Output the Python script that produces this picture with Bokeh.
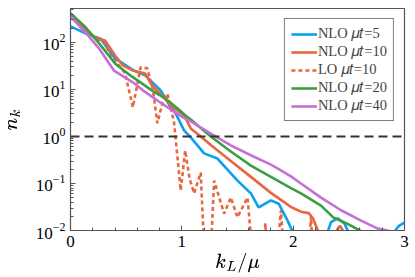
import numpy as np
from bokeh.plotting import figure
from bokeh.models import Span, Legend, LegendItem, FixedTicker
from bokeh.embed import file_html
from bokeh.resources import INLINE

# ---- data (x = k_L/mu, values given as log10(n_k)) ----
nlo5_x = [0, 0.135, 0.27, 0.40, 0.57, 0.67, 0.81, 0.90, 0.94, 1.02, 1.08, 1.20, 1.32, 1.50, 1.62,
          1.69, 1.80, 1.87, 1.95, 2.00, 2.05, 2.30, 2.34, 2.40, 2.46, 2.50, 2.55, 2.85, 2.90, 2.95, 3.0]
nlo5_log = [2.34, 2.19, 2.08, 1.66, 1.40, 1.30, 0.98, 0.62, 0.51, 0.13, -0.02, -0.36, -0.47, -0.94, -1.21,
            -1.51, -1.36, -1.43, -1.79, -2.05, -4, -2.1, -1.82, -1.74, -1.85, -2.05, -4, -4, -2.05, -1.9, -1.83]

nlo10_x = [0, 0.10, 0.22, 0.31, 0.40, 0.47, 0.56, 0.67, 0.73, 0.82, 0.92, 1.02, 1.08, 1.17, 1.26, 1.44,
           1.62, 1.80, 1.89, 1.98, 2.07, 2.14, 2.18, 2.23, 2.28, 2.38, 2.42, 2.46, 2.50]
nlo10_log = [2.57, 2.35, 2.10, 2.04, 1.72, 1.51, 1.40, 1.34, 1.09, 0.87, 0.62, 0.45, 0.17, 0.0, -0.18, -0.52,
             -0.86, -1.20, -1.35, -1.50, -1.60, -1.63, -1.75, -2.05, -4, -2.05, -1.9, -2.05, -4]

lo10_x = [0, 0.10, 0.22, 0.31, 0.36, 0.42, 0.49, 0.56, 0.63, 0.69, 0.74, 0.78, 0.83, 0.87, 0.93, 0.99,
          1.03, 1.07, 1.11, 1.17, 1.23, 1.29, 1.38, 1.44, 1.50, 1.59, 1.69, 1.75, 1.80, 1.89, 1.96, 2.10,
          2.16, 2.21]
lo10_log = [2.57, 2.35, 2.10, 2.00, 1.70, 1.55, 1.35, 0.62, 1.47, 1.45, 1.00, 0.28, 0.75, 0.91, 0.30, -1.15,
            -0.30, -0.90, -1.21, -0.77, -4, -0.94, -1.64, -1.30, -1.72, -1.30, -4, -1.85, -4, -1.57, -4, -4,
            -1.70, -4]

nlo20_x = [0, 0.135, 0.25, 0.40, 0.48, 0.56, 0.73, 0.85, 0.96, 1.03, 1.08, 1.26, 1.44, 1.62, 1.80, 1.98,
           2.07, 2.25, 2.36, 2.48, 2.60, 2.70]
nlo20_log = [2.62, 2.32, 2.00, 1.55, 1.40, 1.26, 0.98, 0.81, 0.60, 0.45, 0.36, 0.0, -0.32, -0.62, -0.86, -1.10,
             -1.21, -1.47, -1.72, -1.85, -2.0, -2.3]

nlo40_x = [0, 0.135, 0.25, 0.39, 0.56, 0.65, 0.82, 0.94, 1.03, 1.08, 1.26, 1.44, 1.62, 1.80, 1.89, 1.98,
           2.07, 2.25, 2.43, 2.61, 2.76, 2.85, 2.95]
nlo40_log = [2.55, 2.21, 1.89, 1.40, 1.15, 0.98, 0.70, 0.51, 0.38, 0.32, 0.06, -0.19, -0.40, -0.60, -0.72, -0.85,
             -1.00, -1.30, -1.57, -1.79, -1.96, -2.0, -2.2]

labels = ["NLO 𝜇𝑡=5", "NLO 𝜇𝑡=10", "LO 𝜇𝑡=10", "NLO 𝜇𝑡=20", "NLO 𝜇𝑡=40"]
colors = ["#0aa0ee", "#e8673f", "#e8673f", "#3a9e45", "#c76fd6"]
x_ticks = [0, 1, 2, 3]

SERIF = "Liberation Serif"

p = figure(width=415, height=277, y_axis_type="log", x_range=(0, 3), y_range=(0.01, 525),
           output_backend="svg", toolbar_location=None,
           min_border_left=70, min_border_right=11, min_border_top=8, min_border_bottom=47)

p.xgrid.visible = False
p.ygrid.visible = False
p.outline_line_color = "#555555"
p.outline_line_width = 1.2

series = [(nlo5_x, nlo5_log), (nlo10_x, nlo10_log), (lo10_x, lo10_log),
          (nlo20_x, nlo20_log), (nlo40_x, nlo40_log)]
renderers = []
for i, (xs, ls) in enumerate(series):
    ys = 10.0 ** np.array(ls)
    dash = "4 3" if i == 2 else "solid"
    r = p.line(xs, ys, line_color=colors[i], line_width=2.6, line_dash=dash)
    renderers.append(r)

p.add_layout(Span(location=1, dimension="width", line_color="#333333",
                  line_width=2, line_dash="9 5"))

# axes
p.xaxis.ticker = FixedTicker(ticks=x_ticks, minor_ticks=[round(0.2 * k, 1) for k in range(16)])
for ax in (p.xaxis[0], p.yaxis[0]):
    ax.major_tick_in = 5
    ax.major_tick_out = 0
    ax.minor_tick_in = 3
    ax.minor_tick_out = 0
    ax.axis_line_color = "#555555"
    ax.major_tick_line_color = "#555555"
    ax.minor_tick_line_color = "#555555"
    ax.major_label_text_font = SERIF
    ax.major_label_text_font_size = "17px"
    ax.major_label_text_color = "black"
    ax.axis_label_text_font_size = "17px"
    ax.axis_label_text_font_style = "normal"
    ax.axis_label_text_color = "black"

p.xaxis.major_label_standoff = 5
p.xaxis.axis_label = r"$$k_L/\mu$$"
p.xaxis.axis_label_standoff = 3
p.yaxis.axis_label = r"$$n_k$$"
p.yaxis.axis_label_standoff = 6
p.yaxis.major_label_standoff = 5

legend = Legend(items=[LegendItem(label=labels[i], renderers=[renderers[i]]) for i in range(5)],
                location="top_right")
legend.label_text_font = SERIF
legend.label_text_font_size = "14.5px"
legend.label_height = 14
legend.glyph_height = 14
legend.glyph_width = 26
legend.label_standoff = 1
legend.spacing = 1
legend.padding = 6
legend.margin = 10
legend.border_line_color = "black"
legend.border_line_width = 1
legend.background_fill_alpha = 1
p.add_layout(legend)

open("out.html", "w").write(file_html(p, INLINE))
